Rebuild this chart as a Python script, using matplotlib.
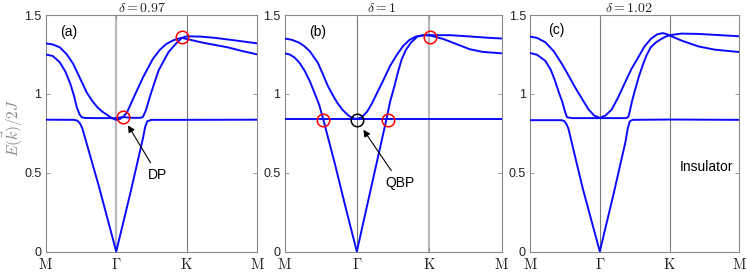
import matplotlib.pyplot as plt

# path coordinate: M = 0, Gamma = 1, K = 2, M = 3
tick_pos = [0, 1, 2, 3]
tick_labels = [r"$\mathrm{M}$", r"$\Gamma$", r"$\mathrm{K}$", r"$\mathrm{M}$"]
deltas = ["0.97", "1", "1.02"]
panel_tags = ["(a)", "(b)", "(c)"]

# ---- panel (a), delta = 0.97 ----
a_up_t = [0, 0.1, 0.2, 0.3, 0.39, 0.48, 0.58, 0.66, 0.73, 0.8, 0.87, 0.94, 1.0, 1.05, 1.095,
          1.15, 1.25, 1.38, 1.52, 1.62, 1.71, 1.8, 1.88, 1.93, 2.0, 2.2, 2.4, 2.58, 2.8, 3.0]
a_up_e = [1.32, 1.313, 1.295, 1.25, 1.19, 1.105, 1.01, 0.955, 0.916, 0.888, 0.867, 0.845, 0.835, 0.84, 0.853,
          0.88, 0.979, 1.105, 1.222, 1.28, 1.316, 1.338, 1.35, 1.355, 1.348, 1.327, 1.31, 1.295, 1.27, 1.25]
a_mid_t = [0, 0.1, 0.2, 0.28, 0.35, 0.4, 0.44, 0.48, 0.51, 0.55, 0.7, 0.9, 1.0, 1.095, 1.2, 1.35,
           1.38, 1.42, 1.49, 1.6, 1.74, 1.84, 1.93, 2.0, 2.2, 2.4, 2.58, 2.8, 3.0]
a_mid_e = [1.25, 1.24, 1.2, 1.14, 1.063, 0.99, 0.916, 0.87, 0.852, 0.847, 0.846, 0.846, 0.846, 0.853, 0.848, 0.848,
           0.855, 0.895, 1.0, 1.148, 1.264, 1.315, 1.355, 1.365, 1.363, 1.355, 1.345, 1.332, 1.32]
a_low_t = [0, 0.4, 0.45, 0.49, 0.52, 0.75, 1.0, 1.2, 1.38, 1.41, 1.44, 1.5, 2.0, 3.0]
a_low_e = [0.836, 0.835, 0.83, 0.81, 0.78, 0.42, 0.0, 0.37, 0.72, 0.79, 0.826, 0.835, 0.835, 0.836]

# ---- panel (b), delta = 1 ----
b_up_t = [0, 0.1, 0.2, 0.27, 0.35, 0.46, 0.53, 0.6, 0.67, 0.73, 0.8, 0.87, 0.93, 1.0,
          1.07, 1.145, 1.21, 1.28, 1.37, 1.46, 1.55, 1.64, 1.73, 1.82, 1.91, 2.0,
          2.2, 2.38, 2.56, 2.74, 3.0]
b_up_e = [1.351, 1.343, 1.325, 1.304, 1.27, 1.198, 1.125, 1.049, 0.99, 0.943, 0.9, 0.868, 0.848, 0.84,
          0.852, 0.889, 0.94, 1.006, 1.09, 1.177, 1.245, 1.304, 1.343, 1.364, 1.371, 1.372,
          1.347, 1.315, 1.283, 1.266, 1.257]
b_low_t = [0, 0.07, 0.14, 0.21, 0.28, 0.35, 0.42, 0.48, 0.535, 0.7, 0.85, 1.0,
           1.2, 1.41, 1.46, 1.52, 1.57, 1.62, 1.68, 1.75, 1.84, 1.92, 2.0,
           2.29, 2.56, 2.8, 3.0]
b_low_e = [1.257, 1.25, 1.23, 1.195, 1.145, 1.08, 1.0, 0.93, 0.84, 0.55, 0.27, 0.0,
           0.41, 0.84, 0.95, 1.049, 1.14, 1.219, 1.28, 1.326, 1.364, 1.371, 1.372,
           1.372, 1.364, 1.356, 1.351]
b_flat_t = [0, 3]
b_flat_e = [0.84, 0.84]

# ---- panel (c), delta = 1.02 ----
c_up_t = [0, 0.1, 0.22, 0.34, 0.46, 0.56, 0.65, 0.75, 0.84, 0.92, 1.0, 1.08, 1.17, 1.26, 1.36,
          1.45, 1.55, 1.64, 1.73, 1.82, 1.9, 1.95, 2.0, 2.17, 2.41, 2.65, 3.0]
c_up_e = [1.363, 1.355, 1.327, 1.27, 1.188, 1.11, 1.038, 0.965, 0.9, 0.862, 0.848, 0.862, 0.9, 0.975, 1.07,
          1.155, 1.231, 1.3, 1.348, 1.377, 1.385, 1.38, 1.37, 1.338, 1.301, 1.28, 1.265]
c_mid_t = [0, 0.1, 0.22, 0.3, 0.36, 0.42, 0.46, 0.5, 0.53, 0.6, 1.0, 1.38, 1.41, 1.43, 1.46,
           1.5, 1.56, 1.62, 1.67, 1.73, 1.8, 1.88, 1.94, 2.0, 2.17, 2.41, 2.65, 3.0]
c_mid_e = [1.259, 1.248, 1.209, 1.15, 1.081, 1.0, 0.953, 0.89, 0.852, 0.846, 0.846, 0.846, 0.855, 0.889, 0.95,
           1.017, 1.11, 1.188, 1.245, 1.295, 1.325, 1.348, 1.362, 1.372, 1.382, 1.38, 1.374, 1.365]
c_low_t = [0, 0.45, 0.49, 0.52, 0.55, 0.75, 1.0, 1.2, 1.37, 1.4, 1.43, 1.47, 2.0, 3.0]
c_low_e = [0.833, 0.833, 0.828, 0.81, 0.78, 0.41, 0.0, 0.37, 0.7, 0.78, 0.826, 0.835, 0.837, 0.835]

panel_bands = [
    [(a_up_t, a_up_e), (a_mid_t, a_mid_e), (a_low_t, a_low_e)],
    [(b_up_t, b_up_e), (b_low_t, b_low_e), (b_flat_t, b_flat_e)],
    [(c_up_t, c_up_e), (c_mid_t, c_mid_e), (c_low_t, c_low_e)],
]

# marked crossing points (t, E)
a_red = ([1.092, 1.937], [0.853, 1.359])
b_red = ([0.536, 1.427, 2.01], [0.836, 0.836, 1.359])
b_black = ([1.0], [0.836])

W, H = 747, 278
ax_px = [(45.7, 257.3), (284.5, 501.5), (530.0, 739.4)]
top_px, bot_px = 15.0, 251.5
title_px = [141.7, 382.0, 628.8]

LIGHT = "#b9b9b9"
DARK = "#777777"
vline_styles = [
    [(LIGHT, 1.6), (DARK, 0.8)],
    [(DARK, 0.8), (LIGHT, 1.6)],
    [(DARK, 0.8), (DARK, 0.8)],
]

plt.rcParams["mathtext.fontset"] = "cm"
plt.rcParams["font.family"] = "Liberation Sans"

fig = plt.figure(figsize=(W / 100, H / 100), dpi=100)
axes = []
for i, (x0, x1) in enumerate(ax_px):
    ax = fig.add_axes([x0 / W, 1 - bot_px / H, (x1 - x0) / W, (bot_px - top_px) / H])
    for xv, (col, lw) in zip([1, 2], vline_styles[i]):
        ax.axvline(xv, color=col, lw=lw, zorder=1)
    for t, e in panel_bands[i]:
        ax.plot(t, e, color="#0a0aff", lw=1.4, zorder=3, solid_capstyle="round")
    ax.set_xlim(0, 3)
    ax.set_ylim(0, 1.5)
    ax.set_xticks(tick_pos)
    ax.set_xticklabels(tick_labels, fontsize=10.5)
    ax.set_yticks([0, 0.5, 1, 1.5])
    ax.set_yticklabels(["0", "0.5", "1", "1.5"], fontsize=9)
    ax.tick_params(direction="in", length=3, width=0.6, color="#888888",
                   right=True, top=True, pad=3, labelcolor="#222222")
    ax.tick_params(axis="x", pad=4)
    for s in ax.spines.values():
        s.set_color("#8a8a8a")
        s.set_linewidth(0.8)
    fig.text(title_px[i] / W, 1 - 7.5 / H, r"$\delta = %s$" % deltas[i],
             ha="center", va="center", fontsize=10, color="#222222")
    axes.append(ax)

axes[0].text(0.32, 1.39, panel_tags[0], fontsize=10, ha="center", va="center")
axes[1].text(0.46, 1.395, panel_tags[1], fontsize=10, ha="center", va="center")
axes[2].text(0.38, 1.404, panel_tags[2], fontsize=10, ha="center", va="center")

axes[0].plot(*a_red, "o", ms=9, mfc="none", mec="red", mew=1.1, zorder=4)
axes[1].plot(*b_red, "o", ms=9, mfc="none", mec="red", mew=1.1, zorder=4)
axes[1].plot(*b_black, "o", ms=9, mfc="none", mec="black", mew=1.1, zorder=4)

arrow = dict(arrowstyle="-|>", color="black", lw=0.8, mutation_scale=10, shrinkA=2, shrinkB=0)
axes[0].annotate("DP", xy=(1.167, 0.80), xytext=(1.59, 0.486), fontsize=10,
                 ha="center", va="center", arrowprops=arrow)
axes[1].annotate("QBP", xy=(1.09, 0.772), xytext=(1.59, 0.437), fontsize=10,
                 ha="center", va="center", arrowprops=arrow)
axes[2].text(2.53, 0.539, "Insulator", fontsize=10, ha="center", va="center")

fig.text(12 / W, 1 - 128 / H, r"$E(\vec{k})/2J$", rotation=90, ha="center", va="center",
         fontsize=11, color="#888888")

fig.savefig("out.png", dpi=100)
